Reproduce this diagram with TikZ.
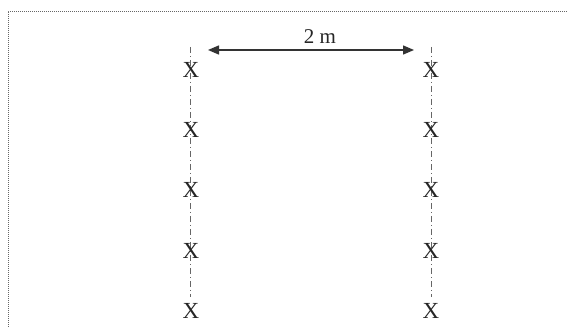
\documentclass[tikz,border=0pt]{standalone}
\usepackage{fontspec}
\setmainfont{Liberation Serif}
\usetikzlibrary{arrows.meta}
\begin{document}
\begin{tikzpicture}[x=1pt,y=-1pt,
  mark x/.style={font=\fontsize{23}{23}\selectfont, text=black!85, inner sep=0pt},
  axisline/.style={draw=black!60, line width=0.9pt, dash pattern=on 6pt off 3pt on 1pt off 3pt},
  frameline/.style={draw=black!60, line width=0.8pt, dash pattern=on 1pt off 1pt},
  dimarrow/.style={draw=black!80, line width=1.4pt, {Triangle[length=11pt,width=9pt]}-{Triangle[length=11pt,width=9pt]}}]
\useasboundingbox (0,0) rectangle (567,328);
% frame (top and left only)
\coordinate (ftr) at (567,11);
\coordinate (ftl) at (8,11);
\coordinate (fbl) at (8,328);
\draw[frameline] (ftr) -- (ftl) -- (fbl);
% axis lines
\coordinate (lt) at (190,47);
\coordinate (lb) at (190,297);
\coordinate (rt) at (431,47);
\coordinate (rb) at (431,297);
\draw[axisline] (lt) -- (lb);
\draw[axisline] (rt) -- (rb);
% marks
\node[mark x] (l1) at (191,70) {X};
\node[mark x] (l2) at (191,130) {X};
\node[mark x] (l3) at (191,190) {X};
\node[mark x] (l4) at (191,251) {X};
\node[mark x] (l5) at (191,311) {X};
\node[mark x] (r1) at (431,70) {X};
\node[mark x] (r2) at (431,130) {X};
\node[mark x] (r3) at (431,190) {X};
\node[mark x] (r4) at (431,251) {X};
\node[mark x] (r5) at (431,311) {X};
% dimension
\coordinate (al) at (208,50);
\coordinate (ar) at (414,50);
\draw[dimarrow] (al) -- (ar);
\node[font=\fontsize{21}{21}\selectfont, text=black!85, inner sep=0pt] (dim) at (320,37) {2 m};
\end{tikzpicture}
\end{document}
